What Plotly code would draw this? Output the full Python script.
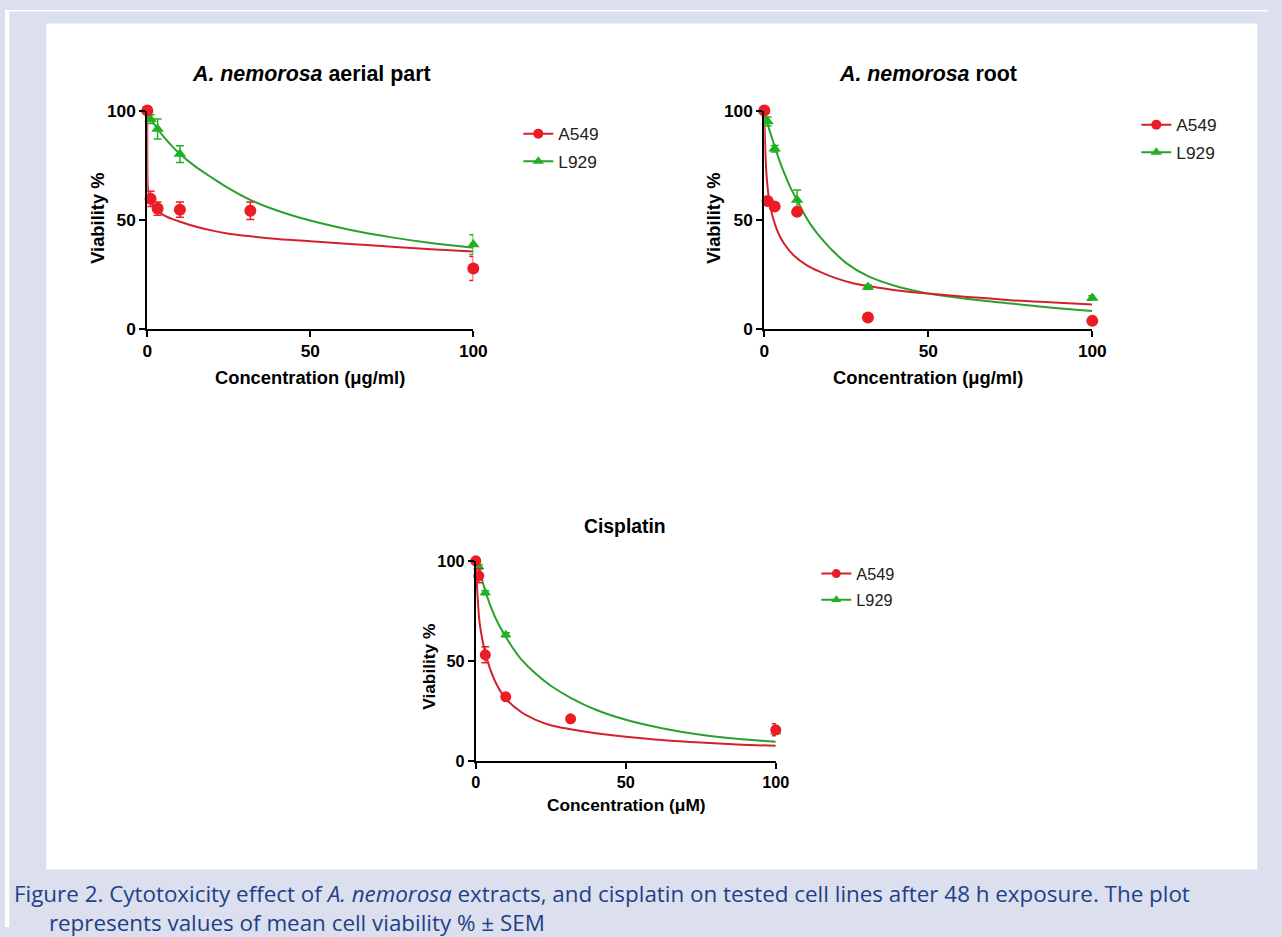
import plotly.graph_objects as go

# Reference canvas in pixels. The photographed page shows the figure slightly
# inset/shrunk, so positions are mapped from reference pixels to paper fractions
# with a small measured correction.
W, H = 1282, 937
AX, SPAN_X = 4.7, 1263.0
AY, SPAN_Y = 8.5, 917.0
K = 1.018  # font compensation for the slight shrink

# ---------------- data ----------------
conc = [0, 1, 3.16, 10, 31.6, 100]

# Panel 1: A. nemorosa aerial part
p1_a549 = [100, 59.5, 55, 54.5, 54, 27.5]
p1_a549_err = [0, 3.5, 3, 3.5, 4, 5.5]
p1_l929 = [100, 96, 91.5, 80, None, 38.5]
p1_l929_err = [0, 2, 4.6, 3.8, 0, 4.5]
p1_fit_a549_x = [0, 0.05, 0.2, 0.5, 1, 2, 3.16, 5, 7.5, 10, 15, 20, 25, 31.6, 40, 50, 62, 75, 87, 100]
p1_fit_a549_y = [100, 70, 64, 61, 58.5, 56, 54, 52, 50.3, 49, 46.7, 44.9, 43.5, 42.3, 41.1, 40, 38.8, 37.5, 36.4, 35.3]
p1_fit_l929_x = [0, 1, 3.16, 5, 7.5, 10, 15, 20, 25, 31.6, 40, 50, 62, 75, 87, 100]
p1_fit_l929_y = [100, 96.5, 91.5, 88, 83.8, 80, 74, 69, 64.3, 59, 54, 49.5, 45.3, 41.8, 39.2, 37]

# Panel 2: A. nemorosa root
p2_a549 = [100, 58.5, 56, 53.5, 5, 3.5]
p2_a549_err = [0, 1, 1, 1.5, 1, 1]
p2_l929 = [100, 95, 82.5, 59, 19, 14]
p2_l929_err = [0, 2, 1.5, 4.5, 1, 1]
p2_fit_a549_x = [0, 0.3, 0.8, 1.8, 3.2, 4.5, 6, 9, 13, 17, 22, 27, 31.6, 40, 50, 62, 75, 87, 100]
p2_fit_a549_y = [100, 82, 68, 56, 48, 43, 39, 33.5, 29, 26, 23, 20.8, 19.5, 17.5, 16, 14.5, 13, 12, 11]
p2_fit_l929_x = [0, 0.8, 2, 2.85, 4.5, 5.9, 8, 10, 12, 14, 17, 20, 25, 31.6, 40, 50, 62, 75, 87, 100]
p2_fit_l929_y = [100, 95, 89, 85, 77.5, 72, 64.5, 59, 53, 48, 42, 37, 30, 24, 19.5, 16, 13.5, 11.5, 9.6, 8]

# Panel 3: Cisplatin
p3_a549 = [100, 92.5, 53, 32, 21, 15.5]
p3_a549_err = [0, 3.5, 4, 1, 1, 3]
p3_l929 = [100, 97, 84, 63, None, 14.5]
p3_l929_err = [0, 1, 1, 1, 0, 1]
p3_fit_a549_x = [0, 0.2, 0.6, 1.2, 2, 3, 4, 5, 7, 10, 15, 20, 25, 31.6, 40, 50, 62, 75, 87, 100]
p3_fit_a549_y = [100, 93, 82, 70, 62, 55, 49.5, 45, 38, 31, 24.5, 20.5, 17.8, 15.8, 13.8, 12, 10.4, 9.1, 8.2, 7.5]
p3_fit_l929_x = [0, 1, 2, 3.16, 5, 7.5, 10, 12.5, 15, 20, 25, 31.6, 40, 50, 62, 75, 87, 100]
p3_fit_l929_y = [100, 97, 91, 85, 77, 68.5, 62, 56, 51, 43.5, 37.5, 31.5, 25.5, 20.5, 16.3, 13, 11, 9.5]

tick_vals = [0, 50, 100]
tick_text = ["0", "50", "100"]

# ---------------- style ----------------
RED_M = "#EC1C24"
RED_L = "#D4202A"
GRN_M = "#22B022"
GRN_L = "#2CA02C"
FONT = "Liberation Sans, Arial, sans-serif"


def px(x):
    return min(1.0, max(0.0, (x - AX) / SPAN_X))


def py(y):
    return min(1.0, max(0.0, 1 - (y - AY) / SPAN_Y))


def fs(s):
    return round(s * K, 2)


fig = go.Figure()

panels = [
    ("x", "y", "legend", p1_a549, p1_a549_err, p1_l929, p1_l929_err,
     p1_fit_a549_x, p1_fit_a549_y, p1_fit_l929_x, p1_fit_l929_y, 12, 11),
    ("x2", "y2", "legend2", p2_a549, p2_a549_err, p2_l929, p2_l929_err,
     p2_fit_a549_x, p2_fit_a549_y, p2_fit_l929_x, p2_fit_l929_y, 12, 11),
    ("x3", "y3", "legend3", p3_a549, p3_a549_err, p3_l929, p3_l929_err,
     p3_fit_a549_x, p3_fit_a549_y, p3_fit_l929_x, p3_fit_l929_y, 11, 10),
]

for (xa, ya, lg, a, ae, l, le, fax, fay, flx, fly, ms_c, ms_t) in panels:
    # fitted curves
    fig.add_trace(go.Scatter(x=flx, y=fly, mode="lines", line=dict(color=GRN_L, width=2, shape="spline", smoothing=1.0),
                             xaxis=xa, yaxis=ya, showlegend=False, cliponaxis=False, hoverinfo="skip"))
    fig.add_trace(go.Scatter(x=fax, y=fay, mode="lines", line=dict(color=RED_L, width=2, shape="spline", smoothing=1.0),
                             xaxis=xa, yaxis=ya, showlegend=False, cliponaxis=False, hoverinfo="skip"))
    # data points
    fig.add_trace(go.Scatter(x=conc, y=l, mode="markers",
                             marker=dict(symbol="triangle-up", size=ms_t, color=GRN_M),
                             error_y=dict(type="data", array=le, color=GRN_M, thickness=1.5, width=4),
                             xaxis=xa, yaxis=ya, showlegend=False, cliponaxis=False))
    fig.add_trace(go.Scatter(x=conc, y=a, mode="markers",
                             marker=dict(symbol="circle", size=ms_c, color=RED_M),
                             error_y=dict(type="data", array=ae, color=RED_M, thickness=1.5, width=4),
                             xaxis=xa, yaxis=ya, showlegend=False, cliponaxis=False))
    # legend entries
    fig.add_trace(go.Scatter(x=[None], y=[None], mode="lines+markers", name="A549",
                             line=dict(color=RED_L, width=2), marker=dict(symbol="circle", size=ms_c - 2, color=RED_M),
                             xaxis=xa, yaxis=ya, legend=lg, legendgroup=lg + "a"))
    fig.add_trace(go.Scatter(x=[None], y=[None], mode="lines+markers", name="L929",
                             line=dict(color=GRN_L, width=2), marker=dict(symbol="triangle-up", size=ms_t - 1, color=GRN_M),
                             xaxis=xa, yaxis=ya, legend=lg, legendgroup=lg + "b"))


def axis_common(tsize):
    return dict(range=[0, 100], showline=True, linecolor="black", linewidth=2,
                ticks="outside", ticklen=6, tickwidth=2, tickcolor="black",
                tickvals=tick_vals, ticktext=tick_text, showgrid=False, zeroline=False,
                tickfont=dict(family=FONT, size=fs(tsize), color="black", weight="bold"))


# axis pixel boxes (reference pixels)
p1 = dict(x0=147, x1=473, y0=327, y1=109)
p2 = dict(x0=764, x1=1092, y0=327, y1=109)
p3 = dict(x0=475.5, x1=775.5, y0=759.3, y1=559.3)

layout = dict(
    autosize=True, margin=dict(l=0, r=0, t=0, b=0),
    paper_bgcolor="#DCE0EE", plot_bgcolor="rgba(0,0,0,0)",
    showlegend=True,
)
for suffix, p, ts, anc in [("", p1, 17, ""), ("2", p2, 17, "2"), ("3", p3, 16, "3")]:
    xa = axis_common(ts)
    xa.update(domain=[px(p["x0"]), px(p["x1"])], anchor="y" + anc)
    ya = axis_common(ts)
    ya.update(domain=[py(p["y0"]), py(p["y1"])], anchor="x" + anc)
    layout["xaxis" + suffix] = xa
    layout["yaxis" + suffix] = ya

leg_common = dict(xanchor="left", yanchor="top", bgcolor="rgba(0,0,0,0)", borderwidth=0,
                  tracegroupgap=2, itemwidth=30)
layout["legend"] = dict(x=px(518), y=py(114.4), font=dict(family=FONT, size=fs(17), color="#222"), **leg_common)
layout["legend2"] = dict(x=px(1136), y=py(105.4), font=dict(family=FONT, size=fs(17), color="#222"), **leg_common)
layout["legend3"] = dict(x=px(816), y=py(555), font=dict(family=FONT, size=fs(16), color="#222"), **leg_common)

shapes = [
    # white strips at the very top and left of the page
    dict(type="rect", xref="paper", yref="paper", x0=0, x1=1, y0=py(10), y1=1,
         fillcolor="white", line=dict(width=0), layer="below"),
    dict(type="rect", xref="paper", yref="paper", x0=0, x1=px(9), y0=0, y1=1,
         fillcolor="white", line=dict(width=0), layer="below"),
    # white figure area
    dict(type="rect", xref="paper", yref="paper", x0=px(46), x1=px(1257), y0=py(868), y1=py(22),
         fillcolor="white", line=dict(width=0), layer="below"),
]
layout["shapes"] = shapes


def ann(text, x, y, size, angle=0, xanchor="center", yanchor="middle", color="black", family=FONT, align="center"):
    return dict(text=text, x=px(x), y=py(y), xref="paper", yref="paper", showarrow=False,
                xanchor=xanchor, yanchor=yanchor, textangle=angle, align=align,
                font=dict(family=family, size=fs(size), color=color))


NB = "&nbsp;" * 6
annotations = [
    ann("<b><i>A. nemorosa</i> aerial part</b>", 311, 72, 21),
    ann("<b><i>A. nemorosa</i> root</b>", 928, 72, 21),
    ann("<b>Cisplatin</b>", 625, 524, 19),
    ann("<b>Viability %</b>", 97, 217, 18, angle=-90),
    ann("<b>Viability %</b>", 713, 217, 18, angle=-90),
    ann("<b>Viability %</b>", 428, 665, 17, angle=-90),
    ann("<b>Concentration (μg/ml)</b>", 310, 376, 18),
    ann("<b>Concentration (μg/ml)</b>", 928, 376, 18),
    ann("<b>Concentration (μM)</b>", 626, 803, 17),
    ann("Figure 2. Cytotoxicity effect of <i>A. nemorosa</i> extracts, and cisplatin on tested cell lines after 48 h exposure. The plot"
        + "<br>" + NB + "represents values of mean cell viability % ± SEM",
        12, 906, 22, xanchor="left", yanchor="middle", color="#1F3F87", family="Open Sans, sans-serif", align="left"),
]
layout["annotations"] = annotations

fig.update_layout(**layout)
fig.write_html(
    "out.html",
    default_width="100vw",
    default_height="100vh",
    config={"displayModeBar": False, "responsive": True},
    post_script="document.body.style.margin='0';document.body.style.overflow='hidden';"
                "document.body.style.background='#DCE0EE';"
                "window.dispatchEvent(new Event('resize'));",
)
